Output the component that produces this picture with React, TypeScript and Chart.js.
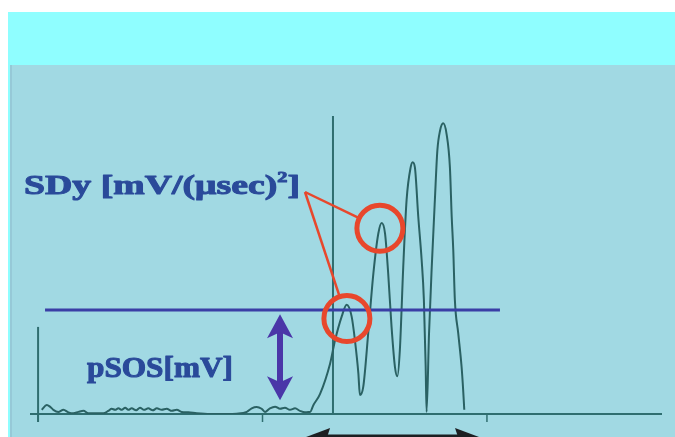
import React, { useEffect, useRef } from "react";
import { Chart, registerables } from "chart.js";

Chart.register(...registerables);

// Waveform: time in microseconds, signal in mV
const TIME_US = [
  0.16, 0.39, 0.53, 0.68, 0.9, 1.13, 1.35, 1.57, 1.8, 2.02, 2.24, 2.61, 2.91, 3.13, 3.28, 3.43, 3.58, 3.73, 3.88,
  4.02, 4.17, 4.37, 4.54, 4.72, 4.91, 5.11, 5.29, 5.51, 5.73, 5.96, 6.18, 6.4, 6.7, 7.07, 7.66, 8.4, 8.85, 9.3,
  9.52, 9.74, 9.96, 10.11, 10.33, 10.56, 10.78, 11.0, 11.22, 11.45, 11.67, 11.89, 12.04, 12.12, 12.27, 12.56,
  13.01, 13.23, 13.53, 13.75, 13.97, 14.12, 14.27, 14.34, 14.49, 14.71, 14.94, 15.16, 15.31, 15.46, 15.6, 15.75,
  15.9, 16.01, 16.12, 16.27, 16.42, 16.6, 16.69, 16.79, 16.94, 17.09, 17.19, 17.27, 17.31, 17.42, 17.54, 17.68,
  17.79, 17.91, 18.05, 18.2, 18.35, 18.43, 18.5, 18.57, 18.72, 18.87, 18.94, 18.99,
];
const SIGNAL_MV = [
  0.04, 0.086, 0.07, 0.04, 0.02, 0.04, 0.016, 0.007, 0.02, 0.03, 0.007, 0.007, 0.007, 0.03, 0.05, 0.04, 0.054,
  0.04, 0.06, 0.04, 0.054, 0.035, 0.06, 0.04, 0.054, 0.035, 0.054, 0.04, 0.05, 0.03, 0.04, 0.02, 0.016, 0.007, 0,
  0, 0.003, 0.02, 0.054, 0.067, 0.05, 0.02, 0.054, 0.07, 0.05, 0.06, 0.04, 0.054, 0.03, 0.016, 0.02, 0.02, 0.086,
  0.19, 0.48, 0.7, 0.93, 1.04, 0.93, 0.7, 0.39, 0.18, 0.26, 0.77, 1.34, 1.72, 1.82, 1.72, 1.34, 0.83, 0.45, 0.36,
  0.61, 1.4, 2.04, 2.35, 2.4, 2.35, 1.88, 1.47, 1.09, 0.45, 0.02, 0.77, 1.4, 2.04, 2.51, 2.7, 2.77, 2.67, 2.35,
  1.88, 1.56, 1.09, 0.77, 0.45, 0.23, 0.04,
];

// Axis ticks (µs)
const X_TICKS_US = [0, 10, 20];
// Trigger marker (µs)
const TRIGGER_US = 13.14;
// pSOS threshold (mV) and its extent (µs)
const PSOS_MV = 0.99;
const PSOS_SPAN_US = [0.31, 20.58];
// pSOS double arrow position (µs) and its ends (mV)
const PSOS_ARROW_US = 10.78;
const PSOS_ARROW_MV = [0.97, 0.13];
// SDy highlighted peaks
const SDY_MARK_US = [13.76, 15.23];
const SDY_MARK_MV = [0.91, 1.77];
// Window arrow under the axis (µs)
const WINDOW_US = [12.12, 19.38];
// y-axis line top (mV)
const Y_AXIS_TOP_MV = 0.83;

const LABEL_SDY_MAIN = "SDy [mV/(μsec)";
const LABEL_SDY_SUP = "2";
const LABEL_SDY_END = "]";
const LABEL_PSOS = "pSOS[mV]";

const AXIS_COLOR = "#2f6e70";
const WAVE_COLOR = "#2a6163";
const RED = "#e8472c";
const TEXT_BLUE = "#2a4a9a";

const decor = {
  id: "decor",
  beforeDraw(chart: any) {
    const ctx = chart.ctx;
    ctx.save();
    ctx.fillStyle = "#ffffff";
    ctx.fillRect(0, 0, chart.width, chart.height);
    ctx.fillStyle = "#8ffeff";
    ctx.fillRect(8, 12, chart.width - 8, 53);
    ctx.fillRect(8, 65, 2, chart.height - 65);
    ctx.fillStyle = "#a1d9e3";
    ctx.fillRect(10, 65, chart.width - 10, chart.height - 65);
    ctx.fillStyle = "#96c9d7";
    ctx.fillRect(10, 65, 2, chart.height - 65);
    ctx.restore();
  },
  beforeDatasetsDraw(chart: any) {
    const ctx = chart.ctx;
    const xs = chart.scales.x;
    const ys = chart.scales.y;
    const area = chart.chartArea;
    const y0 = ys.getPixelForValue(0);
    ctx.save();
    ctx.strokeStyle = AXIS_COLOR;
    ctx.lineWidth = 2;
    ctx.beginPath();
    ctx.moveTo(area.left, y0);
    ctx.lineTo(area.right, y0);
    ctx.stroke();
    const x0 = xs.getPixelForValue(0);
    ctx.beginPath();
    ctx.moveTo(x0, ys.getPixelForValue(Y_AXIS_TOP_MV));
    ctx.lineTo(x0, y0 + 8);
    ctx.stroke();
    ctx.lineWidth = 1.5;
    X_TICKS_US.forEach((t) => {
      const px = xs.getPixelForValue(t);
      ctx.beginPath();
      ctx.moveTo(px, y0);
      ctx.lineTo(px, y0 + 8);
      ctx.stroke();
    });
    ctx.lineWidth = 2;
    const tx = xs.getPixelForValue(TRIGGER_US);
    ctx.beginPath();
    ctx.moveTo(tx, area.top);
    ctx.lineTo(tx, y0);
    ctx.stroke();
    ctx.restore();
  },
  afterDatasetsDraw(chart: any) {
    const ctx = chart.ctx;
    const xs = chart.scales.x;
    const ys = chart.scales.y;
    const y0 = ys.getPixelForValue(0);
    ctx.save();

    const ty = ys.getPixelForValue(PSOS_MV);
    ctx.strokeStyle = "#3a3ea6";
    ctx.lineWidth = 3;
    ctx.beginPath();
    ctx.moveTo(xs.getPixelForValue(PSOS_SPAN_US[0]), ty);
    ctx.lineTo(xs.getPixelForValue(PSOS_SPAN_US[1]), ty);
    ctx.stroke();

    const ax = xs.getPixelForValue(PSOS_ARROW_US);
    const aTop = ys.getPixelForValue(PSOS_ARROW_MV[0]) + 2;
    const aBot = ys.getPixelForValue(PSOS_ARROW_MV[1]);
    ctx.fillStyle = "#4a36a8";
    ctx.strokeStyle = "#4a36a8";
    ctx.lineWidth = 6;
    ctx.beginPath();
    ctx.moveTo(ax, aTop + 15);
    ctx.lineTo(ax, aBot - 15);
    ctx.stroke();
    ctx.beginPath();
    ctx.moveTo(ax, aTop);
    ctx.lineTo(ax + 13, aTop + 24);
    ctx.lineTo(ax, aTop + 18);
    ctx.lineTo(ax - 13, aTop + 24);
    ctx.closePath();
    ctx.fill();
    ctx.beginPath();
    ctx.moveTo(ax, aBot);
    ctx.lineTo(ax + 13, aBot - 24);
    ctx.lineTo(ax, aBot - 18);
    ctx.lineTo(ax - 13, aBot - 24);
    ctx.closePath();
    ctx.fill();

    const fitText = (parts: { t: string; font: string; dy: number }[], x: number, base: number, width: number) => {
      let total = 0;
      parts.forEach((p) => {
        ctx.font = p.font;
        total += ctx.measureText(p.t).width;
      });
      const s = width / total;
      ctx.save();
      ctx.translate(x, base);
      ctx.scale(s, 1);
      let cx = 0;
      parts.forEach((p) => {
        ctx.font = p.font;
        ctx.fillText(p.t, cx, p.dy);
        ctx.strokeText(p.t, cx, p.dy);
        cx += ctx.measureText(p.t).width;
      });
      ctx.restore();
    };
    ctx.fillStyle = TEXT_BLUE;
    ctx.strokeStyle = TEXT_BLUE;
    ctx.lineWidth = 1;
    ctx.lineJoin = "round";
    ctx.textBaseline = "alphabetic";
    ctx.textAlign = "left";
    fitText(
      [
        { t: LABEL_SDY_MAIN, font: "bold 28px 'Liberation Serif'", dy: 0 },
        { t: LABEL_SDY_SUP, font: "bold 15px 'Liberation Serif'", dy: -12 },
        { t: LABEL_SDY_END, font: "bold 28px 'Liberation Serif'", dy: 0 },
      ],
      24,
      194,
      276
    );
    fitText([{ t: LABEL_PSOS, font: "bold 29px 'Liberation Serif'", dy: 0 }], 87, 377, 146);

    const ox = 305;
    const oy = 192;
    const r = 23;
    ctx.strokeStyle = RED;
    SDY_MARK_US.forEach((t, i) => {
      const cx = xs.getPixelForValue(t);
      const cy = ys.getPixelForValue(SDY_MARK_MV[i]);
      const dx = cx - ox;
      const dy = cy - oy;
      const d = Math.sqrt(dx * dx + dy * dy);
      ctx.lineWidth = 2.5;
      ctx.beginPath();
      ctx.moveTo(ox, oy);
      ctx.lineTo(cx - (dx / d) * r, cy - (dy / d) * r);
      ctx.stroke();
      ctx.lineWidth = 5;
      ctx.beginPath();
      ctx.arc(cx, cy, r, 0, Math.PI * 2);
      ctx.stroke();
    });

    const wl = xs.getPixelForValue(WINDOW_US[0]);
    const wr = xs.getPixelForValue(WINDOW_US[1]);
    const wy = y0 + 22;
    ctx.strokeStyle = "#1c1f22";
    ctx.fillStyle = "#1c1f22";
    ctx.lineWidth = 3;
    ctx.beginPath();
    ctx.moveTo(wl + 6, wy);
    ctx.lineTo(wr - 6, wy);
    ctx.stroke();
    ctx.beginPath();
    ctx.moveTo(wl - 4, wy + 1);
    ctx.lineTo(wl + 20, wy - 8);
    ctx.lineTo(wl + 16, wy + 4);
    ctx.closePath();
    ctx.fill();
    ctx.beginPath();
    ctx.moveTo(wr + 6, wy + 1);
    ctx.lineTo(wr - 18, wy - 8);
    ctx.lineTo(wr - 14, wy + 4);
    ctx.closePath();
    ctx.fill();

    ctx.restore();
  },
};

export default function App() {
  const ref = useRef<HTMLCanvasElement | null>(null);
  useEffect(() => {
    if (!ref.current) return;
    const data = TIME_US.map((t, i) => ({ x: t, y: SIGNAL_MV[i] }));
    const chart = new Chart(ref.current, {
      type: "line",
      data: {
        datasets: [
          {
            data,
            borderColor: WAVE_COLOR,
            borderWidth: 2,
            pointRadius: 0,
            cubicInterpolationMode: "monotone",
            fill: false,
          },
        ],
      },
      options: {
        animation: false,
        responsive: false,
        devicePixelRatio: 1,
        layout: { padding: { left: 30, right: 13, top: 116, bottom: 23 } },
        plugins: { legend: { display: false }, tooltip: { enabled: false } },
        scales: {
          x: { type: "linear", display: false, min: -0.36, max: 27.8 },
          y: { type: "linear", display: false, min: 0, max: 2.84 },
        },
      },
      plugins: [decor],
    });
    return () => chart.destroy();
  }, []);
  return (
    <div style={{ position: "fixed", left: 0, top: 0, width: 675, height: 437, overflow: "hidden" }}>
      <canvas ref={ref} width={675} height={437} style={{ display: "block" }} />
    </div>
  );
}
